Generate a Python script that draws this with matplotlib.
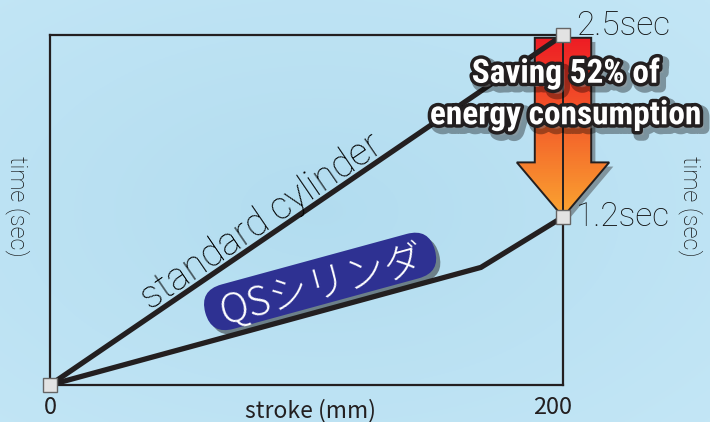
import numpy as np
import matplotlib
matplotlib.use("Agg")
import matplotlib.pyplot as plt
import matplotlib.patheffects as pe
from matplotlib import transforms, font_manager
from matplotlib.patches import Polygon, FancyBboxPatch, Rectangle

# ---------------- data ----------------
stroke_mm = [0, 200]
standard_time = [0, 2.5]
qs_stroke = [0, 168, 200]
qs_time = [0, 0.84, 1.2]
x_ticks = [0, 200]
x_tick_labels = ["0", "200"]
end_labels = ["2.5sec", "1.2sec"]
standard_label = "standard cylinder"
qs_label = "QSシリンダ"
saving_text = "Saving 52% of\nenergy consumption"
x_label = "stroke (mm)"
y_label = "time (sec)"

# ---------------- fonts ----------------
ttf = font_manager.fontManager.ttflist
names = {f.name for f in ttf}


def _w(w):
    if isinstance(w, (int, float)):
        return w
    return {"light": 300, "thin": 100, "extralight": 200, "ultralight": 200}.get(str(w).lower(), 400)


light_family = "Liberation Sans"
light_weight = "normal"
for fam in ["Roboto", "Lato", "Open Sans", "Inter", "Noto Sans"]:
    if any(f.name == fam and _w(f.weight) <= 300 for f in ttf):
        light_family, light_weight = fam, "light"
        break

narrow_family = None
for nm in ["Liberation Sans Narrow", "Roboto Condensed", "Open Sans Condensed"]:
    if nm in names:
        narrow_family = nm
        break

cjk_light = any(f.name == "Noto Sans CJK JP" and _w(f.weight) <= 350 for f in ttf)

INK = "#231f20"

fig = plt.figure(figsize=(7.1, 4.22), dpi=100)

# background gradient
bg = fig.add_axes([0, 0, 1, 1], zorder=-10)
bg.axis("off")
yy, xx = np.mgrid[0:1:200j, 0:1:300j]
r = np.sqrt(((xx - 0.45) / 0.8) ** 2 + ((yy - 0.5) / 0.8) ** 2)
r = np.clip(r, 0, 1)[..., None]
c_in = np.array([0.70, 0.865, 0.94])
c_out = np.array([0.77, 0.905, 0.965])
bg.imshow(c_in * (1 - r) + c_out * r, extent=[0, 1, 0, 1], aspect="auto")
bg.set_xlim(0, 1)
bg.set_ylim(0, 1)

ax = fig.add_axes([50 / 710, 37 / 422, 513 / 710, 350 / 422])
ax.set_facecolor("none")
for s in ax.spines.values():
    s.set_color(INK)
    s.set_linewidth(1.6)
ax.set_yticks([])
ax.set_xticks([])
ax.set_xlim(0, 200)
ax.set_ylim(0, 2.5)

# ---------------- arrow (decoration between the two end times) ----------------
x_end = stroke_mm[-1]
top, tip = standard_time[-1], qs_time[-1]
shaft_hw, head_hw = 11.0, 18.0
head_base = tip + 0.30 * (top - tip)
arrow_top = top - 0.02
arrow_xy = [
    (x_end - shaft_hw, arrow_top), (x_end + shaft_hw, arrow_top),
    (x_end + shaft_hw, head_base), (x_end + head_hw, head_base),
    (x_end, tip), (x_end - head_hw, head_base), (x_end - shaft_hw, head_base),
]
shadow_tr = ax.transData + transforms.ScaledTranslation(3 / 72, -3 / 72, fig.dpi_scale_trans)
ax.add_patch(Polygon(arrow_xy, closed=True, fc="#3a3a3a", ec="none", alpha=0.45,
                     transform=shadow_tr, zorder=3, clip_on=False))
clip_poly = Polygon(arrow_xy, closed=True, fc="none", ec="none", transform=ax.transData)
c_top = np.array([0.93, 0.11, 0.14])
c_bot = np.array([0.98, 0.65, 0.19])
n_strips = 90
edges = np.linspace(arrow_top, tip, n_strips + 1)
for i in range(n_strips):
    t = (i + 0.5) / n_strips
    y_hi, y_lo = edges[i], edges[i + 1]
    rect = Rectangle((x_end - head_hw, y_lo), 2 * head_hw, (y_hi - y_lo) * 1.05,
                     fc=c_top * (1 - t) + c_bot * t, ec="none", zorder=4)
    ax.add_patch(rect)
    rect.set_clip_path(clip_poly)
    rect.set_clip_box(None)
ax.add_patch(Polygon(arrow_xy, closed=True, fc="none", ec=INK, lw=1.4,
                     zorder=5, clip_on=False, joinstyle="miter"))
ax.plot([x_end, x_end], [arrow_top, tip], color=INK, lw=1.4, zorder=5, clip_on=False)

# ---------------- lines ----------------
ax.plot(stroke_mm, standard_time, color=INK, lw=3.8, zorder=6, clip_on=False,
        solid_capstyle="butt")
ax.plot(qs_stroke, qs_time, color=INK, lw=3.8, zorder=6, clip_on=False,
        solid_capstyle="butt", solid_joinstyle="miter")
ax.plot([stroke_mm[0], stroke_mm[-1], qs_stroke[-1]],
        [standard_time[0], standard_time[-1], qs_time[-1]],
        ls="none", marker="s", ms=10, mfc="#e3e3e3", mec="#666666", mew=1.0,
        zorder=8, clip_on=False)

ax.set_xlim(0, 200)
ax.set_ylim(0, 2.5)


def screen_angle(x0, y0, x1, y1):
    p0 = ax.transData.transform((x0, y0))
    p1 = ax.transData.transform((x1, y1))
    return np.degrees(np.arctan2(p1[1] - p0[1], p1[0] - p0[0]))


ang_std = screen_angle(stroke_mm[0], standard_time[0], stroke_mm[-1], standard_time[-1])
ang_qs = screen_angle(qs_stroke[0], qs_time[0], qs_stroke[1], qs_time[1])

# x tick labels
for xt, lab, dx in zip(x_ticks, x_tick_labels, [0, -10]):
    ax.annotate(lab, xy=(xt, 0), xytext=(dx, -23), textcoords="offset pixels",
                ha="center", va="center", fontsize=17, color=INK,
                family=["Noto Sans CJK JP", "DejaVu Sans"], annotation_clip=False)

# end labels
for (yv, lab, dy) in [(standard_time[-1], end_labels[0], 9), (qs_time[-1], end_labels[1], 0)]:
    ax.annotate(lab, xy=(x_end, yv), xytext=(13, dy), textcoords="offset pixels",
                ha="left", va="center", fontsize=24, color="#111111",
                family=light_family, weight=light_weight, zorder=9,
                annotation_clip=False)

# standard cylinder label
ax.text(82.5, 1.165, standard_label, rotation=ang_std, rotation_mode="anchor",
        ha="center", va="center", fontsize=27.5, color="#000000",
        family=light_family, weight=light_weight, zorder=7)

# QS pill
pill_w, pill_h = 238, 46
pill_tr = (transforms.Affine2D().rotate_deg(ang_qs)
           + transforms.ScaledTranslation(105.3, 0.74, ax.transData))
pill = FancyBboxPatch((-pill_w / 2, -pill_h / 2), pill_w, pill_h,
                      boxstyle=f"round,pad=0,rounding_size={pill_h / 2}",
                      mutation_scale=1, fc="#2e3192", ec="none",
                      transform=pill_tr, zorder=6.5, clip_on=False)
pill.set_path_effects([pe.SimplePatchShadow(offset=(3, -3), shadow_rgbFace="#222222", alpha=0.5),
                       pe.Normal()])
ax.add_patch(pill)
ax.text(105.8, 0.74, qs_label, rotation=ang_qs, rotation_mode="anchor",
        ha="center", va="center_baseline", fontsize=28.5, color="white",
        family=["Noto Sans CJK JP", "DejaVu Sans"],
        weight=("light" if cjk_light else "normal"), zorder=7)

# saving text
if narrow_family:
    s_fam, s_size = narrow_family, 24
else:
    s_fam, s_size = "Liberation Sans", 20
ax.text(1.006, 0.83, saving_text, transform=ax.transAxes, ha="center", va="center",
        multialignment="center", linespacing=1.38,
        fontsize=s_size, family=s_fam, weight="bold", color="white", zorder=10,
        path_effects=[pe.Stroke(linewidth=8, foreground="#000000", alpha=0.35, offset=(3, -3)),
                      pe.Stroke(linewidth=5, foreground=INK), pe.Normal()])

# axis labels
ax.text(0.507, -0.074, x_label, transform=ax.transAxes, ha="center", va="center",
        fontsize=16.5, color=INK, family=["Noto Sans CJK JP", "DejaVu Sans"])
for xa in (-0.064, 1.249):
    ax.text(xa, 0.51, y_label, transform=ax.transAxes, ha="center", va="center",
            rotation=-90, fontsize=17, color="#111111", family=light_family,
            weight=light_weight)

fig.savefig("out.png", dpi=100)
